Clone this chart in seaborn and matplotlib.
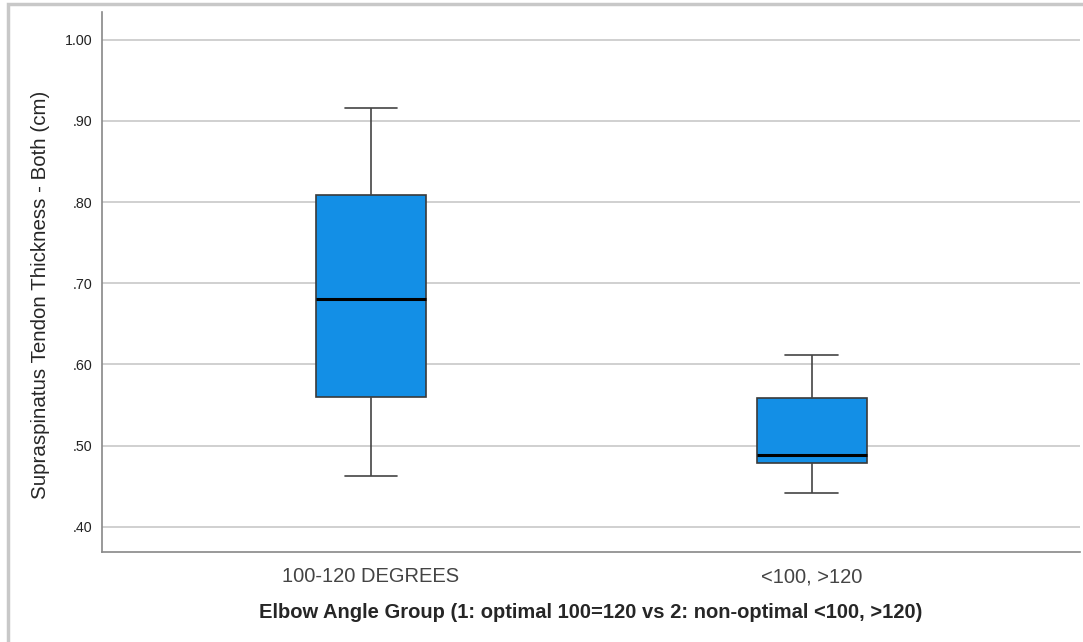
import pandas as pd
import seaborn as sns
import matplotlib.pyplot as plt
from matplotlib.patches import Rectangle

# five-number summaries (min, Q1, median, Q3, max)
groups = ["100-120 DEGREES", "<100, >120"]
optimal_vals = [0.462, 0.560, 0.680, 0.809, 0.916]
nonoptimal_vals = [0.442, 0.479, 0.488, 0.559, 0.612]
y_ticks = [0.40, 0.50, 0.60, 0.70, 0.80, 0.90, 1.00]
y_tick_labels = [".40", ".50", ".60", ".70", ".80", ".90", "1.00"]

BOX_BLUE = "#138FE6"


def main():
    df = pd.DataFrame({
        "group": [groups[0]] * len(optimal_vals) + [groups[1]] * len(nonoptimal_vals),
        "thickness": optimal_vals + nonoptimal_vals,
    })

    sns.set_style("white")
    plt.rcParams["font.family"] = ["Liberation Sans", "DejaVu Sans"]

    fig = plt.figure(figsize=(10.83, 6.42), dpi=100)
    ax = fig.add_axes([102 / 1083, 90 / 642, 978 / 1083, 540 / 642])

    sns.boxplot(data=df, x="group", y="thickness", order=groups, ax=ax,
                color=BOX_BLUE, saturation=1, width=0.25, whis=(0, 100),
                linewidth=1.2, linecolor="#3a3a3a",
                medianprops={"color": "black", "linewidth": 2.2},
                whiskerprops={"color": "#444444"},
                capprops={"color": "#444444"},
                capwidths=0.12, zorder=3)

    ax.set_xlim(-0.61, 1.608)
    ax.set_ylim(0.369, 1.034)
    ax.set_yticks(y_ticks)
    ax.set_yticklabels(y_tick_labels, fontsize=10.3, color="#222222")
    ax.tick_params(axis="y", length=0, pad=7)
    ax.tick_params(axis="x", length=0, labelsize=14.5, labelcolor="#444444", pad=11)
    ax.grid(axis="y", color="#d0d0d0", linewidth=1.4, zorder=0)
    ax.set_axisbelow(True)

    for side in ["top", "right"]:
        ax.spines[side].set_visible(False)
    for side in ["left", "bottom"]:
        ax.spines[side].set_color("#888888")
        ax.spines[side].set_linewidth(1.2)

    ax.set_xlabel("Elbow Angle Group (1: optimal 100=120 vs 2: non-optimal <100, >120)",
                  fontsize=14.5, fontweight="bold", labelpad=12)
    ax.set_ylabel("Supraspinatus Tendon Thickness - Both (cm)", fontsize=14.8)
    ax.yaxis.set_label_coords(-0.053, 0.476)

    # light grey frame around the whole output, as in the SPSS viewer
    fig.patches.append(Rectangle((8 / 1083, -0.01), 1.05, 1.0 - 4 / 642 + 0.01,
                                 transform=fig.transFigure, fill=False,
                                 edgecolor="#c8c8c8", linewidth=2.5))

    fig.savefig("out.png", dpi=100)


if __name__ == "__main__":
    main()
